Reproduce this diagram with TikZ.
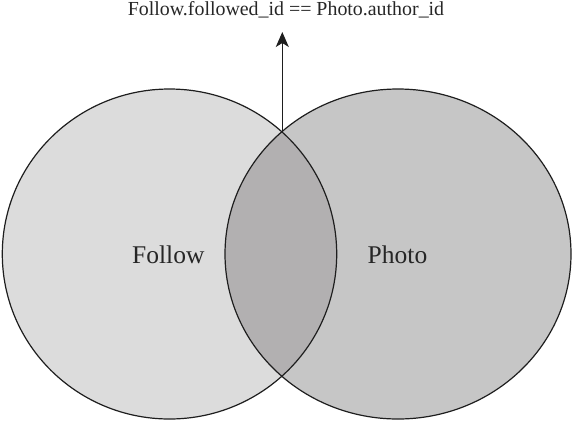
\documentclass[tikz,border=0pt]{standalone}
\usepackage{fontspec}
\setmainfont{Liberation Serif}
\usetikzlibrary{arrows.meta}
\definecolor{leftfill}{HTML}{DCDCDC}
\definecolor{rightfill}{HTML}{C6C6C6}
\definecolor{lensfill}{HTML}{B2B0B1}
\definecolor{edge}{HTML}{1E1E1E}
\begin{document}
\begin{tikzpicture}[x=1bp,y=-1bp,
  setline/.style={draw=edge,line width=1.2bp},
  setlabel/.style={anchor=base,inner sep=0pt,font=\fontsize{25.5bp}{30bp}\selectfont,text=black!85},
  toplabel/.style={anchor=base,inner sep=0pt,font=\fontsize{19.9bp}{24bp}\selectfont,text=black!85},
  arrowline/.style={draw=edge,line width=1.2bp,-{Stealth[length=15bp,width=13bp,inset=4bp]}}]
\useasboundingbox (0,0) rectangle (572,422);
% fills
\fill[leftfill] (169.5,254) ellipse [x radius=167.2, y radius=165];
\fill[rightfill] (398,254) ellipse [x radius=173, y radius=165];
\begin{scope}
  \clip (169.5,254) ellipse [x radius=167.2, y radius=165];
  \fill[lensfill] (398,254) ellipse [x radius=173, y radius=165];
\end{scope}
% outlines
\draw[setline] (169.5,254) ellipse [x radius=167.2, y radius=165];
\draw[setline] (398,254) ellipse [x radius=173, y radius=165];
% labels
\node[setlabel] (follow) at (168.3,263.3) {Follow};
\node[setlabel] (photo) at (397.5,263.3) {Photo};
\node[toplabel] (cond) at (286,15) {Follow.followed\_id == Photo.author\_id};
% arrow
\coordinate (meet) at (282.3,132);
\coordinate (tip) at (282.3,32);
\draw[arrowline] (meet) -- (tip);
\end{tikzpicture}
\end{document}
